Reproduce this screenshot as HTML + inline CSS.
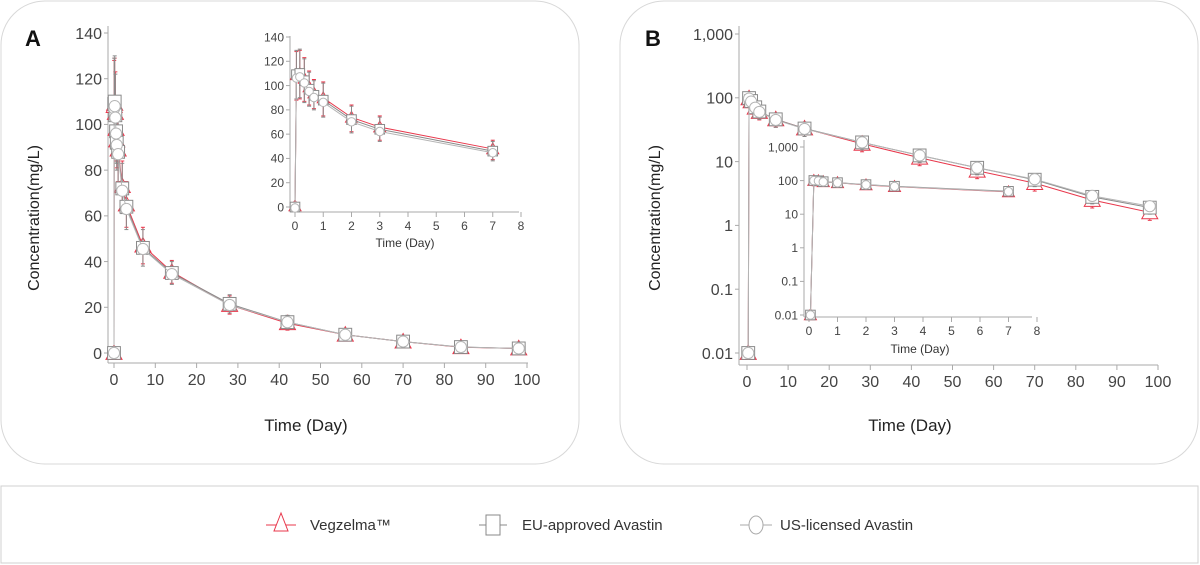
<!DOCTYPE html>
<html><head><meta charset="utf-8"><style>
html,body{margin:0;padding:0;background:#fff}
svg{display:block;font-family:"Liberation Sans",sans-serif}
</style></head><body>
<svg id="chart" width="1200" height="565" viewBox="0 0 1200 565">
<rect x="1" y="1" width="578" height="463" rx="44" fill="#fff" stroke="#d8d8d8"/>
<rect x="620" y="1" width="578" height="463" rx="44" fill="#fff" stroke="#d8d8d8"/>
<text x="25" y="46" font-size="22" font-weight="bold" fill="#111">A</text>
<text x="645" y="46" font-size="22" font-weight="bold" fill="#111">B</text>
<text transform="translate(39,218) rotate(-90)" text-anchor="middle" font-size="16" fill="#222">Concentration(mg/L)</text>
<text x="306" y="431" text-anchor="middle" font-size="17" fill="#222">Time (Day)</text>
<text transform="translate(660,218) rotate(-90)" text-anchor="middle" font-size="16" fill="#222">Concentration(mg/L)</text>
<text x="910" y="431" text-anchor="middle" font-size="17" fill="#222">Time (Day)</text>
<text x="405" y="247" text-anchor="middle" font-size="12" fill="#333">Time (Day)</text>
<text x="920" y="353" text-anchor="middle" font-size="12" fill="#333">Time (Day)</text>
<g id="plots"></g>
<rect x="1" y="486" width="1197" height="77" fill="#fff" stroke="#d0d0d0"/>
<g>
<line x1="266" y1="525" x2="296" y2="525" stroke="#e8374b"/>
<polygon points="281,513 274,531 288,531" fill="#fff" stroke="#e8374b"/>
<text x="310" y="530" font-size="15" fill="#333">Vegzelma™</text></g>
<g>
<line x1="479" y1="525" x2="507" y2="525" stroke="#888"/>
<rect x="486" y="515" width="14" height="20" fill="#fff" stroke="#888"/>
<text x="522" y="530" font-size="15" fill="#333">EU-approved Avastin</text></g>
<g>
<line x1="740" y1="525" x2="772" y2="525" stroke="#aaa"/>
<ellipse cx="756" cy="525" rx="7" ry="9" fill="#fff" stroke="#aaa"/>
<text x="780" y="530" font-size="15" fill="#333">US-licensed Avastin</text></g>
</svg>
<script>
// Linear panel data (mg/L)
const timesA = [0, 0.05, 0.17, 0.33, 0.5, 0.67, 1, 2, 3, 7, 14, 28, 42, 56, 70, 84, 98];
const vegA = [0, 108, 109, 105, 98, 93, 89, 73, 65, 47, 35.5, 21, 13, 8, 5, 2.5, 2];
const euA = [0, 109, 110, 104, 97, 92, 88, 72, 64, 46, 35, 21.5, 13.5, 8, 5, 2.6, 2];
const usA = [0, 107, 108, 103, 96, 91, 87, 71, 63, 45.5, 34.5, 21, 13.5, 8, 5, 2.6, 2];
const sdA = [0, 20, 20, 18, 14, 12, 14, 11, 10, 8, 5, 4, 3, 2, 1.5, 1, 1];
// Log panel data (mg/L)
const timesB = [0.3, 0.5, 1, 2, 3, 7, 14, 28, 42, 56, 70, 84, 98];
const vegB = [0.01, 98, 88, 70, 60, 46, 33, 19, 11.5, 7.2, 4.6, 2.5, 1.6];
const euB = [0.01, 99, 89, 71, 61, 46, 33, 20, 12.5, 8, 5.2, 2.8, 1.9];
const usB = [0.01, 97, 87, 70, 60, 45, 32.5, 20, 12.5, 8, 5.3, 2.9, 2];
const insetTimesB = [0.05, 0.17, 0.33, 0.5, 1, 2, 3, 7];
const insetVegB = [0.01, 100, 98, 92, 86, 74, 66, 46];
const insetEuB = [0.01, 101, 99, 93, 87, 76, 68, 48];
const insetUsB = [0.01, 100, 98, 92, 86, 75, 67, 47];
const linTicks = [0, 20, 40, 60, 80, 100, 120, 140];
const dayTicks = [0, 10, 20, 30, 40, 50, 60, 70, 80, 90, 100];
const insetDayTicks = [0, 1, 2, 3, 4, 5, 6, 7, 8];
const logTicks = [0.01, 0.1, 1, 10, 100, 1000];
const logTickLabels = ["0.01", "0.1", "1", "10", "100", "1,000"];
const insetLogTickLabels = ["0.01", "0.1", "1", "10", "100", "1,000"];

const NS = "http://www.w3.org/2000/svg";
const root = document.getElementById("plots");
function mk(tag, attrs, parent) {
  const e = document.createElementNS(NS, tag);
  for (const k in attrs) e.setAttribute(k, attrs[k]);
  (parent || root).appendChild(e);
  return e;
}
function linScale(d0, d1, r0, r1) { return v => r0 + (v - d0) / (d1 - d0) * (r1 - r0); }
function logScale(d0, d1, r0, r1) { return v => r0 + (Math.log10(v) - Math.log10(d0)) / (Math.log10(d1) - Math.log10(d0)) * (r1 - r0); }

function axes(p) {
  const g = mk("g", {});
  
  
  mk("line", {x1: p.ax, y1: p.top, x2: p.ax, y2: p.ay, stroke: "#aaa"}, g);
  mk("line", {x1: p.ax, y1: p.ay, x2: p.right, y2: p.ay, stroke: "#aaa"}, g);
  p.yt.forEach((v, i) => {
    const y = p.sy(v);
    mk("line", {x1: p.ax - 4, y1: y, x2: p.ax, y2: y, stroke: "#aaa"}, g);
    const t = mk("text", {x: p.ax - 6, y: y + p.fs * 0.36, "text-anchor": "end", "font-size": p.fs, fill: "#444"}, g);
    
    
    t.textContent = p.ytl ? p.ytl[i] : String(v);
  });
  p.xt.forEach(v => {
    const x = p.sx(v);
    mk("line", {x1: x, y1: p.ay, x2: x, y2: p.ay + 5, stroke: "#aaa"}, g);
    const t = mk("text", {x: x, y: p.ay + p.fs + 6, "text-anchor": "middle", "font-size": p.fs, fill: "#444"}, g);
    
    
    t.textContent = String(v);
  });
}
function series(p, xs, ys, sd, color, shape, name, off) {
  const g = mk("g", {});
  
  
  const pts = xs.map((x, i) => [p.sx(x), p.sy(ys[i]) + (off || 0)]);
  mk("polyline", {points: pts.map(q => q.join(",")).join(" "), fill: "none", stroke: color, "stroke-width": 1}, g);
  if (sd) xs.forEach((x, i) => {
    if (!sd[i]) return;
    const hi = p.sy(ys[i] + sd[i]), lo = p.sy(Math.max(ys[i] - sd[i], p.minv || 0));
    const px = pts[i][0];
    const e = mk("line", {x1: px, y1: hi, x2: px, y2: lo, stroke: color, "stroke-width": 1}, g);
    
    
    mk("line", {x1: px - 2, y1: hi, x2: px + 2, y2: hi, stroke: color}, g);
    mk("line", {x1: px - 2, y1: lo, x2: px + 2, y2: lo, stroke: color}, g);
  });
  const s = p.ms;
  pts.forEach(([x, y]) => {
    let m;
    if (shape === "tri") m = mk("polygon", {points: `${x},${y - s} ${x - s},${y + s * 0.8} ${x + s},${y + s * 0.8}`, fill: "#fff", stroke: color}, g);
    else if (shape === "sq") m = mk("rect", {x: x - s * 0.8, y: y - s * 0.8, width: s * 1.6, height: s * 1.6, fill: "#fff", stroke: color}, g);
    else m = mk("circle", {cx: x, cy: y, r: s * 0.7, fill: "#fff", stroke: color}, g);
    
    
  });
}
const RED = "#e8374b", EU = "#8a8a8a", US = "#b5b5b5";

// Panel A main
const pA = {name: "panel-a", ax: 108, ay: 363, top: 26, right: 528, sx: linScale(0, 100, 114, 527), sy: linScale(0, 140, 353, 33), yt: linTicks, xt: dayTicks, fs: 16, ms: 8};
axes(pA);
series(pA, timesA, vegA, sdA, RED, "tri", "vegzelma", 0);
series(pA, timesA, euA, sdA, EU, "sq", "eu-avastin", 0);
series(pA, timesA, usA, null, US, "circ", "us-avastin", 0);
// Panel A inset
const iA = {name: "inset-a", ax: 290, ay: 212, top: 36, right: 519, sx: linScale(0, 8, 295, 521), sy: linScale(0, 140, 207, 37), yt: linTicks, xt: insetDayTicks, fs: 12, ms: 6};
axes(iA);
series(iA, timesA.slice(0, 10), vegA.slice(0, 10), sdA.slice(0, 10), RED, "tri", "vegzelma", -1);
series(iA, timesA.slice(0, 10), euA.slice(0, 10), sdA.slice(0, 10), EU, "sq", "eu-avastin", 0);
series(iA, timesA.slice(0, 10), usA.slice(0, 10), null, US, "circ", "us-avastin", 1);
// Panel B main
const sdB = vegB.map(v => v > 0.05 ? v * 0.25 : 0);
const pB = {name: "panel-b", ax: 739, ay: 365, top: 26, right: 1158, sx: linScale(0, 100, 747, 1158), sy: logScale(0.01, 1000, 353, 34), yt: logTicks, ytl: logTickLabels, xt: dayTicks, fs: 16, ms: 8, minv: 0.01};
axes(pB);
series(pB, timesB, vegB, sdB, RED, "tri", "vegzelma", 0);
series(pB, timesB, euB, sdB, EU, "sq", "eu-avastin", 0);
series(pB, timesB, usB, null, US, "circ", "us-avastin", 0);
// Panel B inset
const sdIB = insetVegB.map(v => v > 0.05 ? v * 0.15 : 0);
const iB = {name: "inset-b", ax: 804, ay: 317, top: 140, right: 1032, sx: linScale(0, 8, 809, 1037), sy: logScale(0.01, 1000, 315, 147), yt: logTicks, ytl: insetLogTickLabels, xt: insetDayTicks, fs: 12, ms: 6, minv: 0.01};
axes(iB);
series(iB, insetTimesB, insetVegB, sdIB, RED, "tri", "vegzelma", 0);
series(iB, insetTimesB, insetEuB, null, EU, "sq", "eu-avastin", 0);
series(iB, insetTimesB, insetUsB, null, US, "circ", "us-avastin", 0);
</script>
</body></html>
